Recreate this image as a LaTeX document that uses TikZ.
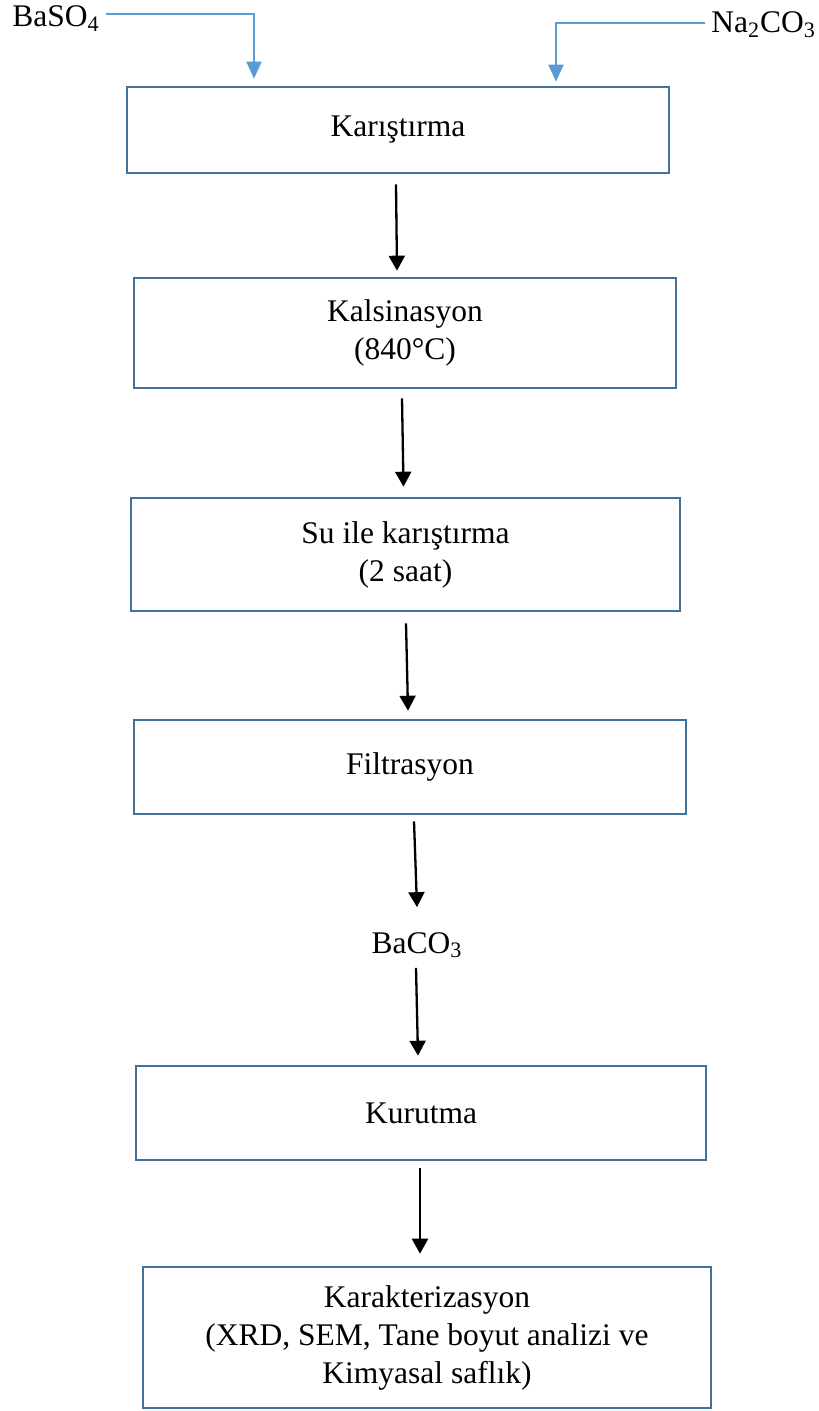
\documentclass[tikz,border=0pt]{standalone}
\usepackage{fontspec}
\setmainfont{Liberation Serif}
\usetikzlibrary{arrows.meta}
\definecolor{boxline}{HTML}{41719C}
\definecolor{feedblue}{HTML}{5B9BD5}
\begin{document}
\begin{tikzpicture}[x=0.5pt,y=-0.5pt,
  every node/.style={font=\fontsize{15.75pt}{19pt}\selectfont},
  stage/.style={draw=boxline, line width=1.3pt, align=center, inner sep=0pt},
  chem/.style={inner sep=0pt},
  flow/.style={-{Triangle[width=8pt,length=7.5pt]}, line width=1.15pt, draw=black},
  feed/.style={-{Triangle[width=7.5pt,length=8.5pt]}, line width=0.9pt, draw=feedblue},
]
\useasboundingbox (0,0) rectangle (818,1411);

% process stages
\node[stage, minimum width=271pt, minimum height=43pt]   (k1) at (398,130)    {Karıştırma};
\node[stage, minimum width=271pt, minimum height=55pt]   (k2) at (405,333)    {Kalsinasyon\\(840°C)};
\node[stage, minimum width=274.5pt, minimum height=56.5pt] (k3) at (405.5,554.5) {Su ile karıştırma\\(2 saat)};
\node[stage, minimum width=276pt, minimum height=47pt]   (k4) at (410,767)    {Filtrasyon};
\node[stage, minimum width=285pt, minimum height=47pt]   (k5) at (421,1113)   {Kurutma};
\node[stage, minimum width=284pt, minimum height=70.5pt] (k6) at (427,1337.5) {Karakterizasyon\\(XRD, SEM, Tane boyut analizi ve\\Kimyasal saflık)};

% raw materials and intermediate product
\node[chem, anchor=base west] (baso4)  at (12,27)   {BaSO\textsubscript{4}};
\node[chem, anchor=base west] (na2co3) at (711,33)  {Na\textsubscript{2}CO\textsubscript{3}};
\node[chem, anchor=base]      (baco3)  at (417,953) {BaCO\textsubscript{3}};

% feed lines into mixing
\draw[feed] ([xshift=3pt,yshift=2.6pt]baso4.east) -| ([xshift=-72pt,yshift=3.5pt]k1.north);
\draw[feed] ([xshift=-3pt,yshift=1.1pt]na2co3.west) -| ([xshift=79pt,yshift=2pt]k1.north);

% main flow
\draw[flow] ([xshift=-1pt,yshift=-5pt]k1.south)   -- ([xshift=-4pt,yshift=3pt]k2.north);
\draw[flow] ([xshift=-1.5pt,yshift=-4.5pt]k2.south) -- ([xshift=-1pt,yshift=5pt]k3.north);
\draw[flow] ([xshift=0.25pt,yshift=-5.5pt]k3.south) -- ([xshift=-1pt,yshift=4pt]k4.north);
\draw[flow] ([xshift=2pt,yshift=-3pt]k4.south)   -- ([xshift=0pt,yshift=12.3pt]baco3.north);
\draw[flow] ([xshift=-0.5pt,yshift=-4.75pt]baco3.south) -- ([xshift=-1.5pt,yshift=4.5pt]k5.north);
\draw[flow] ([xshift=-0.5pt,yshift=-3.5pt]k5.south) -- ([xshift=-3.5pt,yshift=6pt]k6.north);
\end{tikzpicture}
\end{document}
